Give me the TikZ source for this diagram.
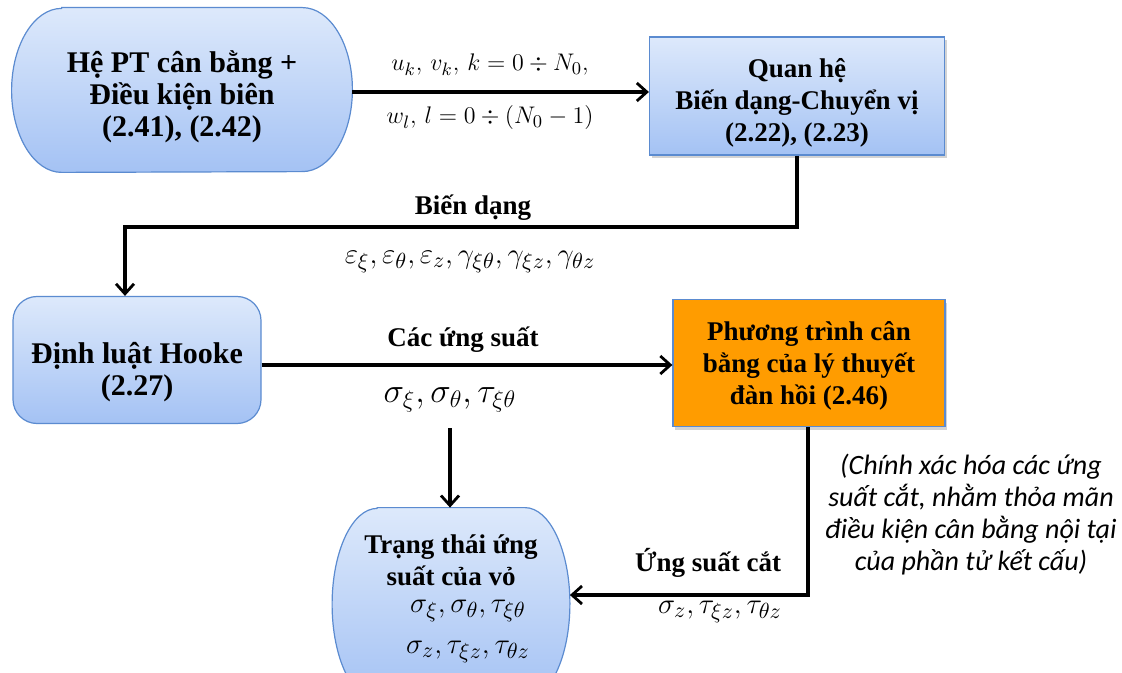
\documentclass[tikz,border=0pt]{standalone}
\usepackage{amsmath}
\usepackage{fontspec}
\setmainfont{Liberation Serif}
\newfontfamily\notefont{Carlito}
\usetikzlibrary{arrows.meta,shadows}

\definecolor{boxline}{HTML}{5B8BD0}
\definecolor{boxtop}{HTML}{DDE9FB}
\definecolor{boxbot}{HTML}{A4C2F4}
\definecolor{orangefill}{HTML}{FF9C00}

\begin{document}
\begin{tikzpicture}[x=0.5pt,y=-0.5pt,
  txt/.style={font=\bfseries\fontsize{13.5}{16}\selectfont,align=center},
  bigtxt/.style={font=\bfseries\fontsize{15}{16}\selectfont,align=center},
  boxfill/.style={draw=boxline,line width=0.6pt,top color=boxtop,bottom color=boxbot},
  box/.style={boxfill,inner sep=0pt},
  shadowed/.style={drop shadow={shadow xshift=1pt,shadow yshift=-1.5pt,opacity=0.35}},
  flow/.style={line width=1.6pt,-{Straight Barb[length=5pt,width=9pt,line width=1.4pt]}},
  mth/.style={font=\fontsize{13}{16}\selectfont},
  greek/.style={font=\fontsize{15}{18}\selectfont}]
  \useasboundingbox (0,0) rectangle (1122,673);
  \clip (0,0) rectangle (1122,673);

  % boxes
  \node[minimum width=170pt,minimum height=82pt] (hept) at (182,90) {};
  \path[boxfill] ([xshift=25pt]hept.north west) -- ([xshift=-25pt]hept.north east)
    arc[start angle=90,end angle=-90,x radius=25pt,y radius=41pt]
    -- ([xshift=25pt]hept.south west)
    arc[start angle=270,end angle=90,x radius=25pt,y radius=41pt] -- cycle;
  \node[bigtxt] (hepttxt) at (182,97) {Hệ PT cân bằng +\\Điều kiện biên\\(2.41), (2.42)};

  \node[box,shadowed,minimum width=147.5pt,minimum height=59pt] (quanhe) at (797,96) {};
  \node[txt] (quanhetxt) at (797,103) {Quan hệ\\Biến dạng-Chuyển vị\\(2.22), (2.23)};

  \node[box,rounded corners=12pt,minimum width=124pt,minimum height=63.5pt] (hooke) at (137,360) {};
  \node[bigtxt] (hooketxt) at (137,372) {Định luật Hooke\\(2.27)};

  \node[box,shadowed,fill=orangefill,top color=orangefill,bottom color=orangefill,
    minimum width=136pt,minimum height=63.5pt] (cbang) at (809,363) {};
  \node[txt] (cbangtxt) at (809,366) {Phương trình cân\\bằng của lý thuyết\\đàn hồi (2.46)};

  \node[minimum width=118.5pt,minimum height=96pt] (trangthai) at (451,604) {};
  \path[boxfill] ([xshift=22.5pt]trangthai.north west) -- ([xshift=-22.5pt]trangthai.north east)
    arc[start angle=90,end angle=-90,x radius=22.5pt,y radius=48pt]
    -- ([xshift=22.5pt]trangthai.south west)
    arc[start angle=270,end angle=90,x radius=22.5pt,y radius=48pt] -- cycle;
  \node[txt,inner sep=0pt] (trangthaitxt) at (451,560) {Trạng thái ứng\\suất của vỏ};
  \node[greek,inner sep=0pt] (ttsig) at (468,611) {$\sigma_\xi,\sigma_\theta,\tau_{\xi\theta}$};
  \node[greek,inner sep=0pt] (tttau) at (468,652) {$\sigma_z,\tau_{\xi z},\tau_{\theta z}$};

  % labels
  \node[mth] (uv) at (490,65) {$u_k,\,v_k,\,k=0\div N_0,$};
  \node[mth] (wl) at (490,118) {$w_l,\,l=0\div(N_0-1)$};
  \node[txt] (bd) at (473,208) {Biến dạng};
  \node[greek] (eps) at (470,262)
    {$\varepsilon_\xi,\varepsilon_\theta,\varepsilon_z,\gamma_{\xi\theta},\gamma_{\xi z},\gamma_{\theta z}$};
  \node[txt] (cus) at (463,340) {Các ứng suất};
  \node[greek,font=\fontsize{17.5}{18}\selectfont] (sig) at (450,400) {$\sigma_\xi,\sigma_\theta,\tau_{\xi\theta}$};
  \node[txt] (usc) at (708,563) {Ứng suất cắt};
  \node[greek] (tau) at (720,612) {$\sigma_z,\tau_{\xi z},\tau_{\theta z}$};
  \node[font=\notefont\itshape\fontsize{14}{16}\selectfont,align=center] (note) at (971,515)
    {(Chính xác hóa các ứng\\suất cắt, nhằm thỏa mãn\\điều kiện cân bằng nội tại\\của phần tử kết cấu)};

  % connectors
  \coordinate (k1) at (797,227);
  \coordinate (k2) at (125,227);
  \coordinate (k3) at (808,595);
  \coordinate (k4) at (450,428);
  \draw[flow] (hept.east |- 0,92) -- (quanhe.west |- 0,92);
  \draw[flow] (quanhe.south -| k1) -- (k1) -- (k2) -- (hooke.north -| k2);
  \draw[flow] (hooke.east |- 0,365) -- (cbang.west |- 0,365);
  \draw[flow] (k4) -- (trangthai.north -| k4);
  \draw[flow] (cbang.south -| k3) -- (k3) -- (k3 -| trangthai.east);
\end{tikzpicture}
\end{document}
